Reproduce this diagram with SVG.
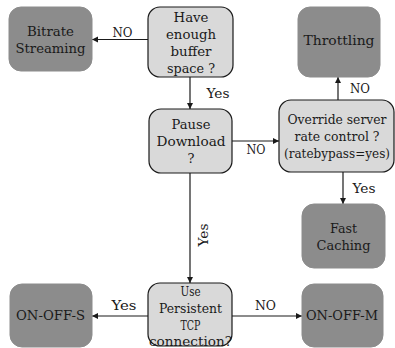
<svg xmlns="http://www.w3.org/2000/svg" width="395" height="348" viewBox="0 0 395 348">
<style>
.dark{fill:#8c8c8c;stroke:#8c8c8c;stroke-width:1}
.light{fill:#d9d9d9;stroke:#1a1a1a;stroke-width:1.2}
text{font-family:"DejaVu Serif","Liberation Serif",serif;font-size:13px;fill:#1a1a1a;text-anchor:middle}
.sm{font-size:12px}
.edge{stroke:#1a1a1a;stroke-width:1.2;fill:none;marker-end:url(#ah)}
</style>
<defs>
<marker id="ah" markerUnits="userSpaceOnUse" markerWidth="7" markerHeight="7" refX="6" refY="3" orient="auto">
<path d="M0,0 L6,3 L0,6 z" fill="#1a1a1a"/>
</marker>
</defs>
<rect width="395" height="348" fill="#ffffff"/>
<g id="connectors">
<line class="edge" x1="148" y1="39.5" x2="92" y2="39.5"/>
<line class="edge" x1="190" y1="77" x2="190" y2="109"/>
<line class="edge" x1="232" y1="141" x2="279" y2="141"/>
<line class="edge" x1="338" y1="100" x2="338" y2="77"/>
<line class="edge" x1="343" y1="172" x2="343" y2="204"/>
<line class="edge" x1="190" y1="173" x2="190" y2="283"/>
<line class="edge" x1="148" y1="316" x2="92" y2="316"/>
<line class="edge" x1="232" y1="316" x2="302" y2="316"/>
<text x="122.5" y="37" textLength="20" lengthAdjust="spacingAndGlyphs">NO</text>
<text x="218" y="98" textLength="23" lengthAdjust="spacingAndGlyphs">Yes</text>
<text x="256" y="154" textLength="19" lengthAdjust="spacingAndGlyphs">NO</text>
<text x="360" y="93" textLength="20" lengthAdjust="spacingAndGlyphs">NO</text>
<text x="364" y="193" textLength="23" lengthAdjust="spacingAndGlyphs">Yes</text>
<text x="208" y="235" transform="rotate(-90 208 235)" textLength="23" lengthAdjust="spacingAndGlyphs">Yes</text>
<text x="124" y="310" textLength="25" lengthAdjust="spacingAndGlyphs">Yes</text>
<text x="265.5" y="310" textLength="21" lengthAdjust="spacingAndGlyphs">NO</text>
</g>
<g id="bitrate">
<rect class="dark" x="9" y="7" width="83" height="64" rx="12"/>
<text x="50.5" y="36" textLength="47" lengthAdjust="spacingAndGlyphs">Bitrate</text>
<text x="50.5" y="53" textLength="70" lengthAdjust="spacingAndGlyphs">Streaming</text>
</g>
<g id="buffer">
<rect class="light" x="148" y="7" width="85" height="70" rx="12"/>
<text x="191" y="22" textLength="35" lengthAdjust="spacingAndGlyphs">Have</text>
<text x="191" y="39" textLength="50" lengthAdjust="spacingAndGlyphs">enough</text>
<text x="191" y="56" textLength="41" lengthAdjust="spacingAndGlyphs">buffer</text>
<text x="191" y="73" textLength="48" lengthAdjust="spacingAndGlyphs">space ?</text>
</g>
<g id="pause">
<rect class="light" x="149" y="109" width="83" height="64" rx="12"/>
<text x="191" y="129" textLength="39" lengthAdjust="spacingAndGlyphs">Pause</text>
<text x="191" y="146" textLength="69" lengthAdjust="spacingAndGlyphs">Download</text>
<text x="191" y="163">?</text>
</g>
<g id="throttling">
<rect class="dark" x="298" y="7" width="82" height="70" rx="12"/>
<text x="339" y="45" textLength="71" lengthAdjust="spacingAndGlyphs">Throttling</text>
</g>
<g id="override">
<rect class="light" x="279" y="100" width="115" height="72" rx="12"/>
<text x="337" y="124" textLength="99" lengthAdjust="spacingAndGlyphs">Override server</text>
<text x="337" y="141" textLength="85" lengthAdjust="spacingAndGlyphs">rate control ?</text>
<text class="sm" x="337" y="158" textLength="106" lengthAdjust="spacingAndGlyphs">(ratebypass=yes)</text>
</g>
<g id="fast">
<rect class="dark" x="302" y="204" width="83" height="64" rx="12"/>
<text x="343.5" y="233" textLength="27" lengthAdjust="spacingAndGlyphs">Fast</text>
<text x="343.5" y="250" textLength="54" lengthAdjust="spacingAndGlyphs">Caching</text>
</g>
<g id="onoffs">
<rect class="dark" x="10" y="284" width="82" height="63" rx="12"/>
<text x="50.5" y="320" textLength="69" lengthAdjust="spacingAndGlyphs">ON-OFF-S</text>
</g>
<g id="persistent">
<rect class="light" x="148" y="283" width="84" height="63" rx="12"/>
<text x="190.5" y="296" textLength="20" lengthAdjust="spacingAndGlyphs">Use</text>
<text x="190.5" y="313" textLength="63" lengthAdjust="spacingAndGlyphs">Persistent</text>
<text x="190.5" y="330" textLength="20" lengthAdjust="spacingAndGlyphs">TCP</text>
<text x="190.5" y="346" textLength="83" lengthAdjust="spacingAndGlyphs">connection?</text>
</g>
<g id="onoffm">
<rect class="dark" x="302" y="284" width="81" height="63" rx="12"/>
<text x="342" y="320" textLength="72" lengthAdjust="spacingAndGlyphs">ON-OFF-M</text>
</g>
</svg>
